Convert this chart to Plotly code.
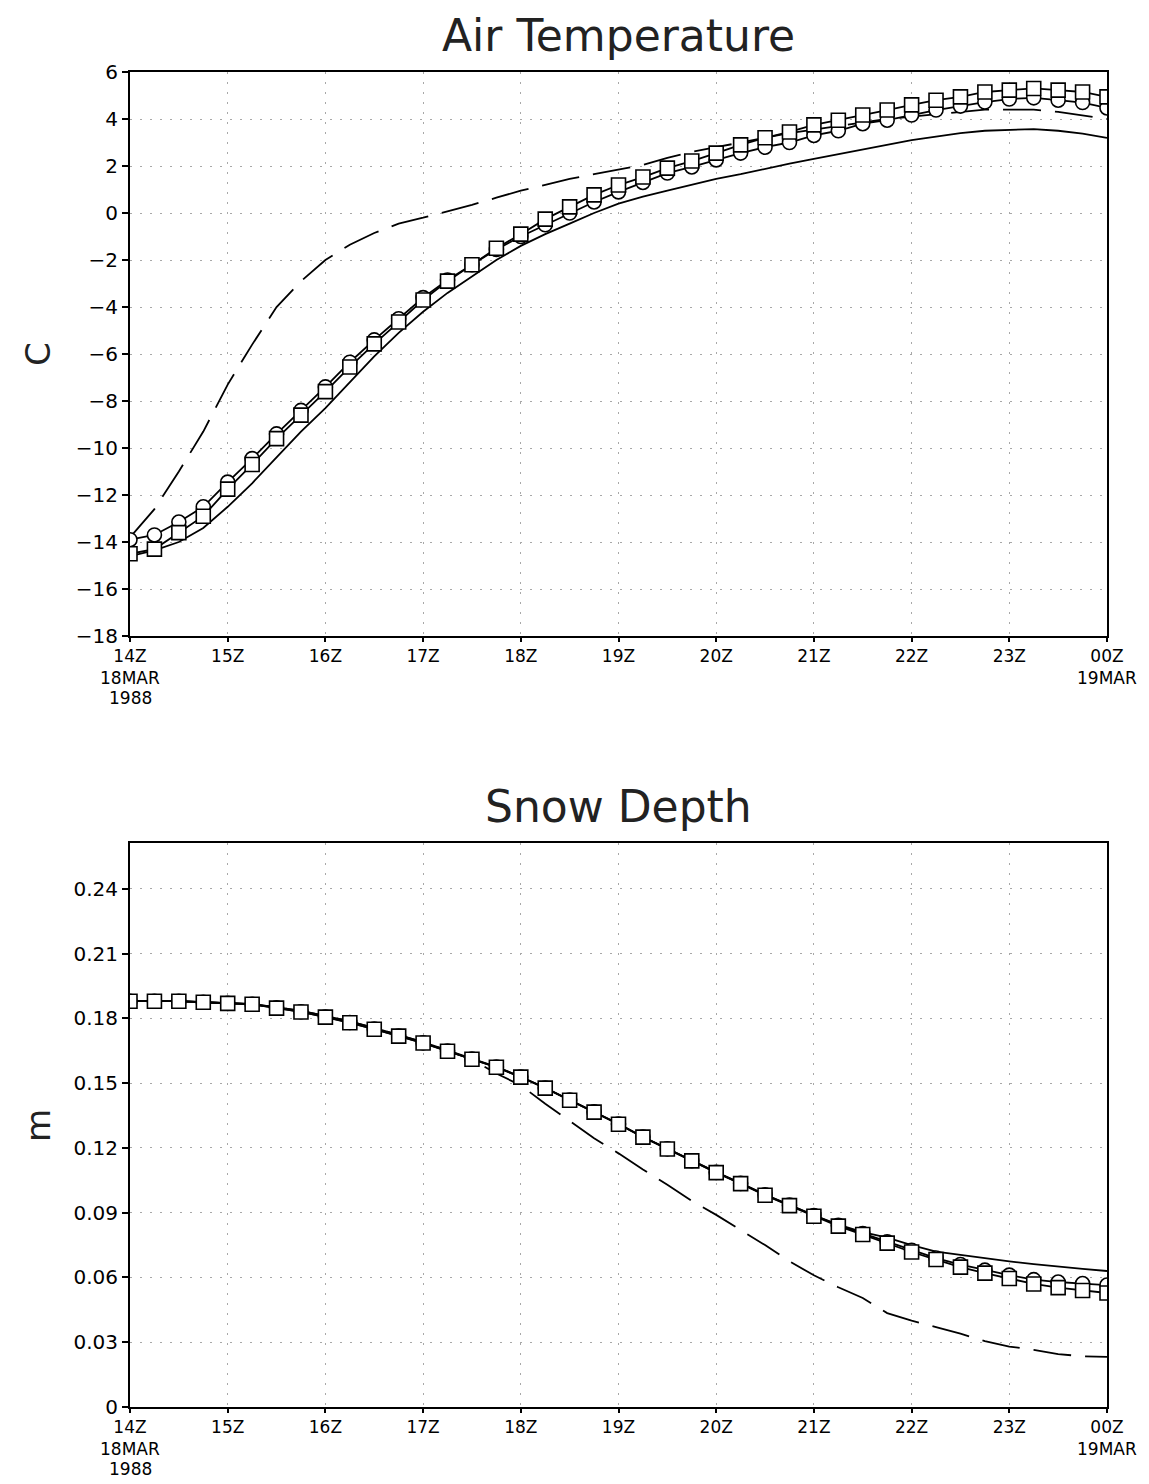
import pandas as pd
import plotly.graph_objects as go

# 15-minute times, 14Z 18 MAR 1988 to 00Z 19 MAR 1988
times = pd.date_range("1988-03-18 14:00", periods=41, freq="15min")

# ---- Air Temperature (C) ----
temp_solid = [-14.6, -14.35, -14.0, -13.4, -12.5, -11.5, -10.4, -9.3, -8.3, -7.2,
              -6.1, -5.1, -4.2, -3.4, -2.7, -2.0, -1.4, -0.9, -0.45, 0.0,
              0.4, 0.7, 0.95, 1.2, 1.45, 1.65, 1.88, 2.1, 2.3, 2.5,
              2.7, 2.9, 3.1, 3.25, 3.4, 3.5, 3.55, 3.57, 3.5, 3.38, 3.2]
temp_dashed = [-13.8, -12.6, -11.0, -9.3, -7.3, -5.6, -4.0, -2.9, -2.0, -1.35,
               -0.85, -0.45, -0.2, 0.06, 0.35, 0.65, 0.95, 1.2, 1.45, 1.65,
               1.85, 2.05, 2.35, 2.6, 2.8, 3.0, 3.2, 3.4, 3.55, 3.7,
               3.85, 4.0, 4.1, 4.2, 4.3, 4.4, 4.4, 4.4, 4.3, 4.15, 4.0]
temp_circle = [-13.9, -13.7, -13.15, -12.5, -11.45, -10.45, -9.4, -8.4, -7.4, -6.35,
               -5.4, -4.5, -3.6, -2.85, -2.2, -1.55, -1.0, -0.5, 0.0, 0.47,
               0.9, 1.3, 1.7, 1.96, 2.26, 2.55, 2.8, 3.0, 3.3, 3.5,
               3.8, 3.95, 4.17, 4.38, 4.55, 4.72, 4.85, 4.9, 4.8, 4.7, 4.47]
temp_square = [-14.5, -14.3, -13.6, -12.9, -11.75, -10.7, -9.6, -8.6, -7.6, -6.55,
               -5.57, -4.64, -3.7, -2.9, -2.2, -1.5, -0.9, -0.26, 0.26, 0.77,
               1.19, 1.53, 1.91, 2.21, 2.55, 2.9, 3.2, 3.45, 3.75, 3.95,
               4.17, 4.38, 4.6, 4.8, 4.94, 5.15, 5.23, 5.3, 5.23, 5.15, 4.94]

# ---- Snow Depth (m) ----
snow_solid = [0.188, 0.188, 0.188, 0.1875, 0.187, 0.1866, 0.1852, 0.1835, 0.1812, 0.1786,
              0.1756, 0.1724, 0.169, 0.1652, 0.1614, 0.1576, 0.153, 0.1479, 0.1423, 0.1368,
              0.1312, 0.1252, 0.1197, 0.1142, 0.1088, 0.1037, 0.0984, 0.0937, 0.0888, 0.0845,
              0.081, 0.0785, 0.075, 0.072, 0.0705, 0.0688, 0.0675, 0.0662, 0.065, 0.064, 0.063]
snow_dashed = [0.188, 0.188, 0.188, 0.1875, 0.187, 0.1866, 0.1852, 0.1835, 0.1812, 0.1786,
               0.1756, 0.1724, 0.169, 0.1652, 0.161, 0.1545, 0.149, 0.1405, 0.1325, 0.1245,
               0.1175, 0.110, 0.103, 0.0955, 0.089, 0.082, 0.075, 0.0675, 0.061, 0.0555,
               0.0505, 0.0435, 0.040, 0.037, 0.034, 0.0305, 0.028, 0.0265, 0.0245, 0.0235, 0.0232]
snow_circle = [0.188, 0.188, 0.188, 0.1875, 0.187, 0.1866, 0.1849, 0.1831, 0.1807, 0.1781,
               0.1751, 0.1719, 0.1687, 0.1649, 0.1612, 0.1575, 0.1529, 0.1478, 0.1422, 0.1367,
               0.1311, 0.1251, 0.1196, 0.1141, 0.1087, 0.1036, 0.0983, 0.0935, 0.0887, 0.0842,
               0.0804, 0.0765, 0.0726, 0.069, 0.066, 0.0634, 0.0611, 0.059, 0.0579, 0.0572, 0.0565]
snow_square = [0.188, 0.188, 0.188, 0.1875, 0.187, 0.1866, 0.1848, 0.183, 0.1806, 0.178,
               0.175, 0.1718, 0.1686, 0.1648, 0.1611, 0.1574, 0.1528, 0.1477, 0.1421, 0.1366,
               0.131, 0.125, 0.1195, 0.114, 0.1086, 0.1035, 0.0981, 0.0933, 0.0884, 0.0838,
               0.0799, 0.0759, 0.0718, 0.0683, 0.0648, 0.062, 0.0595, 0.057, 0.0553, 0.054, 0.0528]

hour_ticks = pd.date_range("1988-03-18 14:00", periods=11, freq="1h")
hour_labels = ["14Z", "15Z", "16Z", "17Z", "18Z", "19Z",
               "20Z", "21Z", "22Z", "23Z", "00Z"]
start_date_lines = ["18MAR", "1988"]
end_date_lines = ["19MAR"]
temp_ticks = list(range(-18, 7, 2))
temp_labels = [("\u2212" + str(-t)) if t < 0 else str(t) for t in temp_ticks]
snow_ticks = [0, 0.03, 0.06, 0.09, 0.12, 0.15, 0.18, 0.21, 0.24]
snow_labels = ["0", "0.03", "0.06", "0.09", "0.12", "0.15", "0.18", "0.21", "0.24"]

FONT = "DejaVu Sans"
XFS = 17
fig = go.Figure()

def add_series(y, row_axis, kind):
    xa, ya = row_axis
    if kind == "solid":
        fig.add_trace(go.Scatter(x=times, y=y, mode="lines", xaxis=xa, yaxis=ya,
                                 line=dict(color="black", width=1.8), showlegend=False))
    elif kind == "dashed":
        fig.add_trace(go.Scatter(x=times, y=y, mode="lines", xaxis=xa, yaxis=ya,
                                 line=dict(color="black", width=1.8, dash="38px,14px"),
                                 showlegend=False))
    else:
        sym = "circle" if kind == "circle" else "square"
        fig.add_trace(go.Scatter(x=times, y=y, mode="lines+markers", xaxis=xa, yaxis=ya,
                                 line=dict(color="black", width=1.8),
                                 marker=dict(symbol=sym, size=14, color="white",
                                             line=dict(color="black", width=1.6)),
                                 cliponaxis=True, showlegend=False))

for ys, kind in [(temp_solid, "solid"), (temp_dashed, "dashed"),
                 (temp_circle, "circle"), (temp_square, "square")]:
    add_series(ys, ("x", "y"), kind)
for ys, kind in [(snow_solid, "solid"), (snow_dashed, "dashed"),
                 (snow_circle, "circle"), (snow_square, "square")]:
    add_series(ys, ("x2", "y2"), kind)

grid = dict(showgrid=True, gridcolor="#a8a8a8", griddash="2px,8px", gridwidth=1.3)
xcommon = dict(
    range=[times[0], times[-1]], tickvals=hour_ticks, ticktext=hour_labels,
    showline=True, linecolor="black", linewidth=2, mirror=True,
    ticks="outside", ticklen=4, tickcolor="black", tickwidth=1.5, automargin=False,
    zeroline=False, tickfont=dict(family=FONT, size=XFS, color="black"), **grid,
)
ycommon = dict(
    showline=True, linecolor="black", linewidth=2, mirror=True,
    ticks="outside", ticklen=6, tickcolor="black", tickwidth=1.5, automargin=False,
    zeroline=False, tickfont=dict(family=FONT, size=20, color="black"), **grid,
)

# plot-area geometry in paper units (used only for placing text labels)
PH = 1335.0
def py(pix):
    return (1407 - pix) / PH

annotations = [
    dict(text="Air Temperature", x=0.5, y=py(35), xref="paper", yref="paper",
         showarrow=False, font=dict(family=FONT, size=44, color="#222"),
         xanchor="center", yanchor="middle"),
    dict(text="Snow Depth", x=0.5, y=py(806), xref="paper", yref="paper",
         showarrow=False, font=dict(family=FONT, size=44, color="#222"),
         xanchor="center", yanchor="middle"),
    dict(text="C", x=-0.0942, y=py(354), xref="paper", yref="paper", textangle=-90,
         showarrow=False, font=dict(family=FONT, size=34, color="#222"),
         xanchor="center", yanchor="middle"),
    dict(text="m", x=-0.0942, y=py(1125), xref="paper", yref="paper", textangle=-90,
         showarrow=False, font=dict(family=FONT, size=34, color="#222"),
         xanchor="center", yanchor="middle"),
]
for axis_bottom in (636, 1407):
    for i, line in enumerate(start_date_lines):
        annotations.append(dict(text=line, x=0, y=py(axis_bottom + 42 + 20 * i),
                                xref="paper", yref="paper", showarrow=False,
                                font=dict(family=FONT, size=XFS, color="black"),
                                xanchor="center", yanchor="middle", borderpad=0))
    for i, line in enumerate(end_date_lines):
        annotations.append(dict(text=line, x=1, y=py(axis_bottom + 42 + 20 * i),
                                xref="paper", yref="paper", showarrow=False,
                                font=dict(family=FONT, size=XFS, color="black"),
                                xanchor="center", yanchor="middle", borderpad=0))

fig.update_layout(
    width=1149, height=1484,
    margin=dict(l=130, r=42, t=72, b=77),
    paper_bgcolor="white", plot_bgcolor="white",
    xaxis=dict(domain=[0, 1], anchor="y", **xcommon),
    yaxis=dict(domain=[0.5775, 1], anchor="x", range=[-18, 6],
               tickvals=temp_ticks, ticktext=temp_labels, **ycommon),
    xaxis2=dict(domain=[0, 1], anchor="y2", **xcommon),
    yaxis2=dict(domain=[0, 0.4225], anchor="x2", range=[0, 0.2613],
                tickvals=snow_ticks, ticktext=snow_labels, **ycommon),
    annotations=annotations,
)

fig.write_html("out.html")
